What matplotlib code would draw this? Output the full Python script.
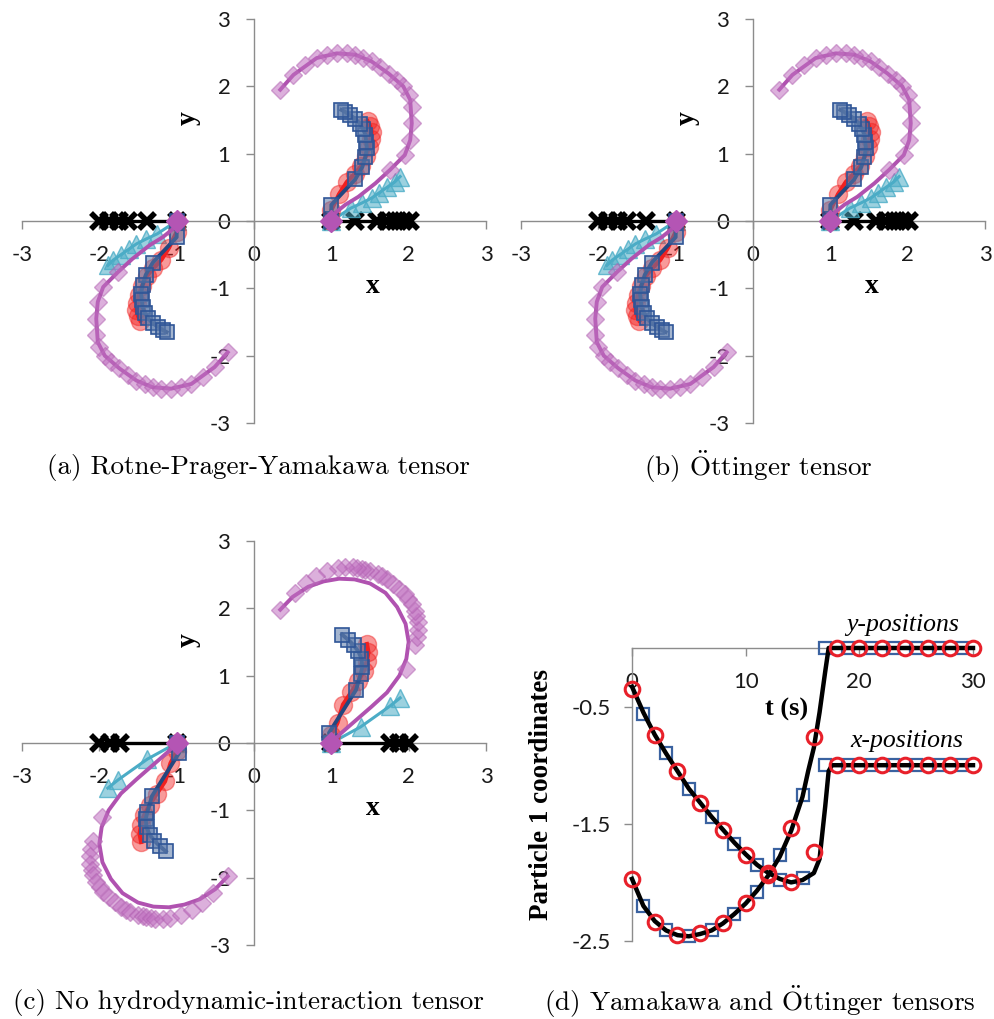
import numpy as np
import matplotlib
matplotlib.use('Agg')
from matplotlib import pyplot as plt
from matplotlib.colors import to_rgba

plt.rcParams['axes.unicode_minus'] = False
plt.rcParams['mathtext.fontset'] = 'cm'

# ---------------- data: panels (a) and (b) ----------------
# particle 2 (upper right) and particle 1 (lower left)
cross_a_x2 = [1.00, 1.31, 1.59, 1.72, 1.82, 1.93, 2.02]
cross_a_x1 = [-1.00, -1.38, -1.63, -1.75, -1.88, -2.01]

tri_a_x2 = [1.00, 1.25, 1.40, 1.52, 1.62, 1.72, 1.82, 1.89]
tri_a_y2 = [0.00, 0.19, 0.27, 0.34, 0.42, 0.50, 0.58, 0.66]
tri_a_x1 = [-1.00, -1.25, -1.40, -1.52, -1.62, -1.72, -1.82, -1.89]
tri_a_y1 = [0.00, -0.19, -0.27, -0.34, -0.42, -0.50, -0.58, -0.66]

circ_a_x2 = [1.00, 1.00, 1.10, 1.20, 1.30, 1.39, 1.45, 1.49, 1.51, 1.52, 1.50, 1.47]
circ_a_y2 = [0.00, 0.16, 0.40, 0.58, 0.70, 0.82, 0.97, 1.10, 1.22, 1.32, 1.41, 1.48]
circ_a_x1 = [-1.00, -1.00, -1.10, -1.20, -1.30, -1.39, -1.45, -1.49, -1.51, -1.52, -1.50, -1.47]
circ_a_y1 = [0.00, -0.16, -0.40, -0.58, -0.70, -0.82, -0.97, -1.10, -1.22, -1.32, -1.41, -1.48]

sq_a_x2 = [1.00, 1.00, 1.31, 1.40, 1.44, 1.46, 1.45, 1.44, 1.41, 1.37, 1.31, 1.24, 1.18, 1.13]
sq_a_y2 = [0.00, 0.24, 0.62, 0.80, 0.95, 1.08, 1.18, 1.28, 1.37, 1.44, 1.52, 1.57, 1.62, 1.65]
sq_a_x1 = [-1.00, -1.00, -1.31, -1.40, -1.44, -1.46, -1.45, -1.44, -1.41, -1.37, -1.31, -1.24, -1.18, -1.13]
sq_a_y1 = [0.00, -0.24, -0.62, -0.80, -0.95, -1.08, -1.18, -1.28, -1.37, -1.44, -1.52, -1.57, -1.62, -1.65]

dia_a_x2 = [1.00, 1.76, 1.95, 2.02, 2.04, 2.04, 2.00, 1.93, 1.85, 1.74, 1.63, 1.52, 1.41,
            1.31, 1.20, 1.07, 0.94, 0.81, 0.66, 0.51, 0.34]
dia_a_y2 = [0.00, 0.76, 0.98, 1.20, 1.45, 1.70, 1.87, 2.00, 2.09, 2.19, 2.29, 2.37, 2.42,
            2.47, 2.49, 2.49, 2.47, 2.42, 2.32, 2.17, 1.95]
dia_a_x1 = [-1.00, -1.76, -1.95, -2.02, -2.04, -2.04, -2.00, -1.93, -1.85, -1.74, -1.63, -1.52, -1.41,
            -1.31, -1.20, -1.07, -0.94, -0.81, -0.66, -0.51, -0.34]
dia_a_y1 = [0.00, -0.76, -0.98, -1.20, -1.45, -1.70, -1.87, -2.00, -2.09, -2.19, -2.29, -2.37, -2.42,
            -2.47, -2.49, -2.49, -2.47, -2.42, -2.32, -2.17, -1.95]

arc_a_x2 = [1.00, 1.05, 1.18, 1.35, 1.57, 1.76, 1.95, 2.02, 2.04, 2.02, 1.93, 1.74, 1.52,
            1.31, 1.07, 0.81, 0.51, 0.34]
arc_a_y2 = [0.00, 0.12, 0.24, 0.36, 0.56, 0.76, 0.98, 1.20, 1.45, 1.80, 2.00, 2.19, 2.37,
            2.47, 2.49, 2.42, 2.17, 1.95]
arc_a_x1 = [-1.00, -1.05, -1.18, -1.35, -1.57, -1.76, -1.95, -2.02, -2.04, -2.02, -1.93, -1.74, -1.52,
            -1.31, -1.07, -0.81, -0.51, -0.34]
arc_a_y1 = [0.00, -0.12, -0.24, -0.36, -0.56, -0.76, -0.98, -1.20, -1.45, -1.80, -2.00, -2.19, -2.37,
            -2.47, -2.49, -2.42, -2.17, -1.95]

# ---------------- data: panel (c) ----------------
cross_c_x2 = [1.00, 1.76, 1.88, 2.00]
cross_c_x1 = [-1.00, -1.73, -1.86, -2.00]

tri_c_x2 = [1.00, 1.38, 1.76, 1.89]
tri_c_y2 = [0.00, 0.24, 0.55, 0.67]
tri_c_x1 = [-1.00, -1.38, -1.76, -1.89]
tri_c_y1 = [0.00, -0.24, -0.55, -0.67]

circ_c_x2 = [1.00, 1.00, 1.08, 1.15, 1.26, 1.35, 1.42, 1.46, 1.48, 1.46]
circ_c_y2 = [0.00, 0.12, 0.30, 0.57, 0.76, 0.92, 1.07, 1.22, 1.35, 1.47]
circ_c_x1 = [-1.00, -1.00, -1.08, -1.15, -1.26, -1.35, -1.42, -1.46, -1.48, -1.46]
circ_c_y1 = [0.00, -0.12, -0.30, -0.57, -0.76, -0.92, -1.07, -1.22, -1.35, -1.47]

sq_c_x2 = [1.00, 0.97, 1.32, 1.38, 1.40, 1.39, 1.35, 1.29, 1.22, 1.14]
sq_c_y2 = [0.00, 0.15, 0.79, 1.03, 1.13, 1.25, 1.36, 1.45, 1.53, 1.61]
sq_c_x1 = [-1.00, -0.97, -1.32, -1.38, -1.40, -1.39, -1.35, -1.29, -1.22, -1.14]
sq_c_y1 = [0.00, -0.15, -0.79, -1.03, -1.13, -1.25, -1.36, -1.45, -1.53, -1.61]

dia_c_x2 = [1.00, 1.97, 2.08, 2.11, 2.12, 2.12, 2.10, 2.08, 2.04, 1.99, 1.95, 1.88, 1.80, 1.72,
            1.66, 1.60, 1.50, 1.44, 1.40, 1.33, 1.28, 1.18, 1.08, 0.94, 0.80, 0.67, 0.53, 0.34]
dia_c_y2 = [0.00, 1.10, 1.46, 1.58, 1.68, 1.80, 1.88, 1.96, 2.06, 2.14, 2.21, 2.29, 2.36, 2.44,
            2.48, 2.51, 2.55, 2.57, 2.59, 2.60, 2.61, 2.61, 2.60, 2.56, 2.48, 2.38, 2.23, 1.98]
dia_c_x1 = [-1.00, -1.97, -2.08, -2.11, -2.12, -2.12, -2.10, -2.08, -2.04, -1.99, -1.95, -1.88, -1.80, -1.72,
            -1.66, -1.60, -1.50, -1.44, -1.40, -1.33, -1.28, -1.18, -1.08, -0.94, -0.80, -0.67, -0.53, -0.34]
dia_c_y1 = [0.00, -1.10, -1.46, -1.58, -1.68, -1.80, -1.88, -1.96, -2.06, -2.14, -2.21, -2.29, -2.36, -2.44,
            -2.48, -2.51, -2.55, -2.57, -2.59, -2.60, -2.61, -2.61, -2.60, -2.56, -2.48, -2.38, -2.23, -1.98]

arc_c_x2 = [1.00, 1.12, 1.30, 1.52, 1.72, 1.88, 1.97, 2.00, 1.96, 1.85, 1.70, 1.50, 1.30, 1.10,
            0.90, 0.70, 0.50, 0.34]
arc_c_y2 = [0.00, 0.14, 0.32, 0.54, 0.75, 1.00, 1.25, 1.50, 1.77, 2.02, 2.23, 2.37, 2.43, 2.44,
            2.40, 2.32, 2.17, 1.98]
arc_c_x1 = [-1.00, -1.12, -1.30, -1.52, -1.72, -1.88, -1.97, -2.00, -1.96, -1.85, -1.70, -1.50, -1.30, -1.10,
            -0.90, -0.70, -0.50, -0.34]
arc_c_y1 = [0.00, -0.14, -0.32, -0.54, -0.75, -1.00, -1.25, -1.50, -1.77, -2.02, -2.23, -2.37, -2.43, -2.44,
            -2.40, -2.32, -2.17, -1.98]

# ---------------- data: panel (d) ----------------
t_circ = [0, 2, 4, 6, 8, 10, 12, 14, 16, 18, 20, 22, 24, 26, 28, 30]
xpos_circ = [-0.35, -0.74, -1.05, -1.32, -1.55, -1.77, -1.92, -2.00, -1.74,
             -1.00, -1.00, -1.00, -1.00, -1.00, -1.00, -1.00]
ypos_circ = [-1.97, -2.34, -2.45, -2.43, -2.35, -2.18, -1.94, -1.54, -0.76,
             0.0, 0.0, 0.0, 0.0, 0.0, 0.0, 0.0]
t_sq = [1, 3, 5, 7, 9, 11, 13, 15, 17, 19, 21, 23, 25, 27, 29]
xpos_sq = [-0.56, -0.90, -1.20, -1.44, -1.67, -1.85, -1.98, -1.96,
           -1.00, -1.00, -1.00, -1.00, -1.00, -1.00, -1.00]
ypos_sq = [-2.20, -2.41, -2.46, -2.41, -2.27, -2.08, -1.77, -1.25,
           0.0, 0.0, 0.0, 0.0, 0.0, 0.0, 0.0]
line_tx = [0, 1, 2, 3, 4, 5, 6, 7, 8, 9, 10, 11, 12, 13, 14, 15, 16, 16.5, 17, 17.3, 17.6, 30]
line_x = [-0.33, -0.55, -0.74, -0.90, -1.05, -1.20, -1.32, -1.44, -1.55, -1.66, -1.76, -1.85,
          -1.92, -1.97, -2.00, -1.98, -1.92, -1.80, -1.35, -1.05, -1.00, -1.00]
line_ty = [0, 1, 2, 3, 4, 5, 6, 7, 8, 9, 10, 11, 12, 13, 14, 15, 15.5, 16, 16.5, 17, 17.3, 30]
line_y = [-1.97, -2.20, -2.33, -2.41, -2.45, -2.46, -2.44, -2.41, -2.35, -2.27, -2.18, -2.07,
          -1.94, -1.78, -1.56, -1.27, -1.05, -0.85, -0.55, -0.20, 0.00, 0.00]

# ---------------- styling ----------------
GRAY = '#8c8c8c'
PURPLE = '#b052b0'
NAVY = '#24477f'
RED = '#f02020'
CYAN = '#4bacc6'
TICKFONT = 'Lato'
SERIF = 'Liberation Serif'

fig = plt.figure(figsize=(9.94, 10.19), dpi=100)
W, H = 994.0, 1019.0


def px_axes(left, top, right, bottom):
    return fig.add_axes([left / W, 1 - bottom / H, (right - left) / W, (bottom - top) / H])


def setup_traj(ax):
    ax.set_xlim(-3, 3)
    ax.set_ylim(-3, 3)
    ax.patch.set_alpha(0)
    for s in ['top', 'right']:
        ax.spines[s].set_visible(False)
    for s in ['left', 'bottom']:
        ax.spines[s].set_position(('data', 0))
        ax.spines[s].set_color(GRAY)
        ax.spines[s].set_linewidth(1.0)
    ax.set_xticks(range(-3, 4))
    ax.set_yticks(range(-3, 4))
    ax.set_xticklabels([str(v) for v in range(-3, 4)])
    ax.set_yticklabels([str(v) for v in range(-3, 4)])
    ax.tick_params(direction='out', length=6, width=1, color=GRAY, labelsize=16, pad=11)
    for lab in ax.get_xticklabels() + ax.get_yticklabels():
        lab.set_family(TICKFONT)
        lab.set_color('#1a1a1a')
    ax.text(1.53, -0.98, 'x', family=SERIF, fontweight='bold', fontsize=20, ha='center', va='center')
    ax.text(-0.85, 1.53, 'y', family=SERIF, fontweight='bold', fontsize=20, ha='center', va='center',
            rotation=90)


def draw_series(ax, cx, tx, ty, rx, ry, sx, sy, dx, dy, lx, ly):
    # black crosses on the x-axis
    ax.plot(cx, [0.0] * len(cx), color='black', lw=2.4, marker='x', ms=12, mew=4, zorder=3)
    # cyan triangles
    ax.plot(tx, ty, color=CYAN, lw=2.2, zorder=4)
    ax.plot(tx, ty, ls='none', marker='^', ms=13, mfc=to_rgba(CYAN, 0.55),
            mec=to_rgba(CYAN, 0.8), mew=1, zorder=4)
    # red circles
    ax.plot(rx, ry, color=RED, lw=3, zorder=5)
    ax.plot(rx, ry, ls='none', marker='o', ms=13, mfc=to_rgba(RED, 0.45),
            mec=to_rgba(RED, 0.45), mew=1, zorder=5)
    # blue squares
    ax.plot(sx, sy, color=NAVY, lw=2.8, zorder=6)
    ax.plot(sx, sy, ls='none', marker='s', ms=10.5, mfc=to_rgba('#5a78a8', 0.55),
            mec='#2f5597', mew=1.2, zorder=6)
    # purple diamonds and line
    ax.plot(lx, ly, color=PURPLE, lw=2.8, zorder=7)
    ax.plot(dx, dy, ls='none', marker='D', ms=9.5, mfc=to_rgba('#c070c0', 0.55),
            mec=to_rgba('#b060b0', 0.5), mew=1, zorder=7)
    ax.plot([dx[0]], [dy[0]], ls='none', marker='D', ms=11, mfc='#b455b4', mec='#b455b4', zorder=8)


# panel (a) and (b)
for left, right in [(22, 486), (521, 985)]:
    ax = px_axes(left, 19, right, 423)
    setup_traj(ax)
    for args in [(cross_a_x2, tri_a_x2, tri_a_y2, circ_a_x2, circ_a_y2, sq_a_x2, sq_a_y2,
                  dia_a_x2, dia_a_y2, arc_a_x2, arc_a_y2),
                 (cross_a_x1, tri_a_x1, tri_a_y1, circ_a_x1, circ_a_y1, sq_a_x1, sq_a_y1,
                  dia_a_x1, dia_a_y1, arc_a_x1, arc_a_y1)]:
        draw_series(ax, *args)

# panel (c)
ax = px_axes(22, 541, 486, 945)
setup_traj(ax)
for args in [(cross_c_x2, tri_c_x2, tri_c_y2, circ_c_x2, circ_c_y2, sq_c_x2, sq_c_y2,
              dia_c_x2, dia_c_y2, arc_c_x2, arc_c_y2),
             (cross_c_x1, tri_c_x1, tri_c_y1, circ_c_x1, circ_c_y1, sq_c_x1, sq_c_y1,
              dia_c_x1, dia_c_y1, arc_c_x1, arc_c_y1)]:
    draw_series(ax, *args)

# panel (d)
axd = px_axes(632, 648, 973, 941)
axd.set_xlim(0, 30)
axd.set_ylim(-2.5, 0)
axd.patch.set_alpha(0)
for s in ['top', 'right']:
    axd.spines[s].set_visible(False)
axd.spines['bottom'].set_position(('data', 0))
for s in ['left', 'bottom']:
    axd.spines[s].set_color(GRAY)
    axd.spines[s].set_linewidth(1.0)
axd.set_xticks([0, 10, 20, 30])
axd.set_xticklabels(['0', '10', '20', '30'])
axd.set_yticks([-0.5, -1.5, -2.5])
axd.set_yticklabels(['-0.5', '-1.5', '-2.5'])
axd.tick_params(axis='x', direction='out', length=6, width=1, color=GRAY, labelsize=16, pad=11)
axd.tick_params(axis='y', direction='out', length=6, width=1, color=GRAY, labelsize=16, pad=9)
for lab in axd.get_xticklabels() + axd.get_yticklabels():
    lab.set_family(TICKFONT)
    lab.set_color('#1a1a1a')

axd.plot(t_sq, xpos_sq, ls='none', marker='s', ms=8, mfc='none', mec='#3a62a0', mew=1.6, clip_on=False, zorder=3)
axd.plot(t_sq, ypos_sq, ls='none', marker='s', ms=8, mfc='none', mec='#3a62a0', mew=1.6, clip_on=False, zorder=3)
axd.plot(line_tx, line_x, color='black', lw=3.2, clip_on=False, zorder=4)
axd.plot(line_ty, line_y, color='black', lw=3.2, clip_on=False, zorder=4)
axd.plot(t_circ, xpos_circ, ls='none', marker='o', ms=10.5, mfc='none', mec='#e8202a', mew=2.2, clip_on=False, zorder=5)
axd.plot(t_circ, ypos_circ, ls='none', marker='o', ms=10.5, mfc='none', mec='#e8202a', mew=2.2, clip_on=False, zorder=5)

fig.text(787 / W, 1 - 709 / H, 't (s)', family=SERIF, fontweight='bold', fontsize=19, ha='center', va='center')
fig.text(542 / W, 1 - 794 / H, 'Particle 1 coordinates', family=SERIF, fontweight='bold', fontsize=19.5,
         ha='center', va='center', rotation=90)
fig.text(903 / W, 1 - 625 / H, 'y-positions', family=SERIF, style='italic', fontsize=18.5, ha='center', va='center')
fig.text(907 / W, 1 - 741 / H, 'x-positions', family=SERIF, style='italic', fontsize=18.5, ha='center', va='center')

# captions
cap = dict(family=['cmr10', 'DejaVu Serif'], fontsize=19.5, ha='center', va='center')
fig.text(258 / W, 1 - 467 / H, '(a) Rotne-Prager-Yamakawa tensor', **cap)
fig.text(758 / W, 1 - 467 / H, r'(b) $\ddot{\mathrm{O}}$ttinger tensor', **cap)
fig.text(248 / W, 1 - 1002 / H, '(c) No hydrodynamic-interaction tensor', **cap)
fig.text(760 / W, 1 - 1002 / H, r'(d) Yamakawa and $\ddot{\mathrm{O}}$ttinger tensors', **cap)

fig.savefig('out.png', dpi=100)
